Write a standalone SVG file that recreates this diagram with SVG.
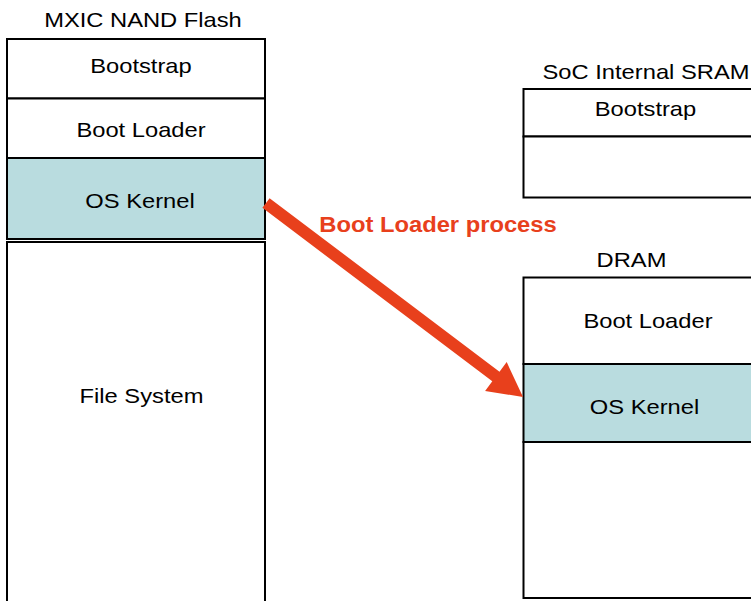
<svg xmlns="http://www.w3.org/2000/svg" width="751" height="601" viewBox="0 0 751 601">
<style>
.cell{fill:#ffffff;stroke:#000000;stroke-width:2}
.kern{fill:#B9DCDF;stroke:#000000;stroke-width:2}
.t{font-family:"Liberation Sans",Arial,sans-serif;font-size:21px;fill:#000000;text-anchor:middle}
.lbl{font-family:"Liberation Sans",Arial,sans-serif;font-size:22px;font-weight:bold;fill:#E8401C;text-anchor:middle}
.arrow{fill:#E8401C;stroke:none}
</style>
<rect width="751" height="601" fill="#ffffff"/>
<g id="nand">
  <text class="t" transform="scale(1.13,1)" x="126.55" y="27">MXIC NAND Flash</text>
  <g id="nand-bootstrap">
    <rect class="cell" x="7" y="39" width="258" height="59.5"/>
    <text class="t" transform="scale(1.13,1)" x="124.78" y="73">Bootstrap</text>
  </g>
  <g id="nand-bootloader">
    <rect class="cell" x="7" y="98.5" width="258" height="59.5"/>
    <text class="t" transform="scale(1.13,1)" x="124.78" y="137">Boot Loader</text>
  </g>
  <g id="nand-kernel">
    <rect class="kern" x="7" y="158" width="258" height="81"/>
    <text class="t" transform="scale(1.13,1)" x="123.89" y="208">OS Kernel</text>
  </g>
  <g id="nand-fs">
    <rect class="cell" x="7" y="242" width="258" height="370"/>
    <text class="t" transform="scale(1.13,1)" x="125.22" y="403">File System</text>
  </g>
</g>
<g id="sram">
  <text class="t" transform="scale(1.13,1)" x="571.68" y="79">SoC Internal SRAM</text>
  <g id="sram-bootstrap">
    <rect class="cell" x="523.5" y="89" width="240" height="47.5"/>
    <text class="t" transform="scale(1.13,1)" x="571.24" y="116">Bootstrap</text>
  </g>
  <g id="sram-free">
    <rect class="cell" x="523.5" y="136.5" width="240" height="61"/>
  </g>
</g>
<g id="dram">
  <text class="t" transform="scale(1.13,1)" x="558.85" y="267">DRAM</text>
  <g id="dram-bootloader">
    <rect class="cell" x="523.5" y="277.5" width="240" height="86.5"/>
    <text class="t" transform="scale(1.13,1)" x="573.45" y="328">Boot Loader</text>
  </g>
  <g id="dram-kernel">
    <rect class="kern" x="523.5" y="364" width="240" height="78"/>
    <text class="t" transform="scale(1.13,1)" x="570.35" y="414">OS Kernel</text>
  </g>
  <g id="dram-free">
    <rect class="cell" x="523.5" y="442" width="240" height="156"/>
  </g>
</g>
<g id="connectors">
  <polygon class="arrow" points="269.6,198.2 499.5,371.7 506.7,362.1 523,397 485.1,390.9 492.3,381.3 262.4,207.8"/>
  <text class="lbl" transform="scale(1.08,1)" x="405.56" y="232">Boot Loader process</text>
</g>
</svg>
